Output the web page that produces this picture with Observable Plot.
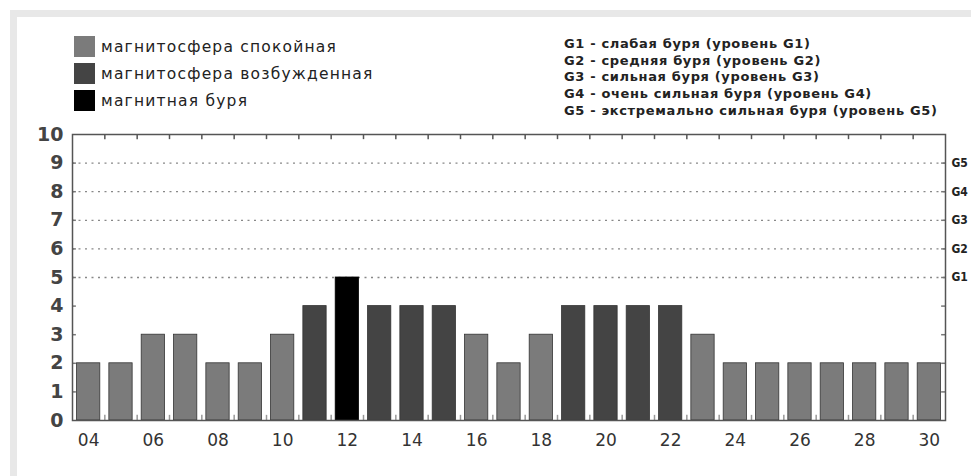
<!DOCTYPE html>
<html><head><meta charset="utf-8">
<script src="https://cdn.jsdelivr.net/npm/d3@7"></script>
<script src="https://cdn.jsdelivr.net/npm/@observablehq/plot@0.6"></script>
<style>
html,body{margin:0;padding:0;width:971px;height:476px;overflow:hidden;background:#fff;font-family:"DejaVu Sans",sans-serif;}
#g{position:absolute;left:10px;top:10px;right:-20px;bottom:-20px;background:#e8e8e8;}
#w{position:absolute;left:17px;top:17px;right:-20px;bottom:-20px;background:#fff;}
#chart{position:absolute;left:0;top:0;}
.leg{position:absolute;left:74px;display:flex;align-items:center;font-size:15.5px;letter-spacing:1.2px;color:#222;white-space:nowrap;}
.leg span.sw{display:inline-block;width:21px;height:21px;margin-right:6px;}
#gdesc{position:absolute;left:564px;top:36px;font-family:"DejaVu Sans",sans-serif;font-weight:bold;font-size:13px;letter-spacing:0.65px;line-height:16.7px;color:#222;white-space:nowrap;}
</style></head>
<body>
<div id="g"></div><div id="w"></div>
<div id="legend"></div>
<div id="gdesc"></div>
<div id="chart"></div>
<script>
const days = [4,5,6,7,8,9,10,11,12,13,14,15,16,17,18,19,20,21,22,23,24,25,26,27,28,29,30];
const kp   = [2,2,3,3,2,2,3,4,5,4,4,4,3,2,3,4,4,4,4,3,2,2,2,2,2,2,2];
const states = ["магнитосфера спокойная","магнитосфера возбужденная","магнитная буря"];
const stateColors = ["#7b7b7b","#444444","#000000"];
const gLevels = [5,6,7,8,9];
const gNames = ["G1","G2","G3","G4","G5"];
const gDescriptions = [
  "G1 - слабая буря (уровень G1)",
  "G2 - средняя буря (уровень G2)",
  "G3 - сильная буря (уровень G3)",
  "G4 - очень сильная буря (уровень G4)",
  "G5 - экстремально сильная буря (уровень G5)"
];
const xTickDays = [4,6,8,10,12,14,16,18,20,22,24,26,28,30];
const yTicks = [0,1,2,3,4,5,6,7,8,9,10];

const stateOf = v => v >= 5 ? states[2] : v >= 4 ? states[1] : states[0];
const data = days.map((d,i) => ({day:d, kp:kp[i], state:stateOf(kp[i])}));
const boundaries = days.slice(1).map(d => d - 0.5);
const inner = yTicks.filter(v => v > 0 && v < 10);
const halfW = 0.36;

// legend (HTML)
const legTops = [36, 63, 90];
document.getElementById("legend").innerHTML = states.map((s,i) =>
  `<div class="leg" style="top:${legTops[i]}px"><span class="sw" style="background:${stateColors[i]}"></span>${s}</div>`).join("");
document.getElementById("gdesc").innerHTML = gDescriptions.map(t => `<div>${t}</div>`).join("");

const x0 = days[0]-0.5, x1 = days[days.length-1]+0.5;
const plot = Plot.plot({
  width: 971, height: 476,
  marginLeft: 72, marginRight: 26, marginTop: 134, marginBottom: 56,
  style: {background: "transparent", fontFamily: "DejaVu Sans, sans-serif"},
  x: {domain: [x0, x1], axis: null},
  y: {domain: [0, 10], axis: null},
  color: {domain: states, range: stateColors},
  marks: [
    Plot.ruleY(gLevels, {x1: x0, x2: x1, stroke: "#888", strokeWidth: 1.3, strokeDasharray: "2,4.5"}),
    Plot.rectY(data, {x1: d => d.day - halfW, x2: d => d.day + halfW, y1: 0, y2: "kp", fill: "state", stroke: d => d.kp >= 5 ? "#000" : "#333", strokeWidth: 0.8}),
    Plot.ruleX(boundaries, {y1: 10, y2: 9.82, stroke: "#555", strokeWidth: 1.5}),
    Plot.ruleX(boundaries, {y1: 0, y2: 0.18, stroke: "#999", strokeWidth: 1.5}),
    Plot.ruleY(inner, {x1: x0, x2: x0 + 0.12, stroke: "#777", strokeWidth: 1.5}),
    Plot.ruleY(inner, {x1: x1 - 0.12, x2: x1, stroke: "#777", strokeWidth: 1.5}),
    Plot.frame({stroke: "#555", strokeWidth: 1.5}),
    Plot.axisY({anchor: "left", label: null, ticks: yTicks, tickSize: 0, tickPadding: 9, fontSize: 19, fontWeight: "bold", fill: "#444", tickFormat: d => String(d)}),
    Plot.axisY({anchor: "right", label: null, ticks: gLevels, tickSize: 0, tickPadding: 6, fontSize: 12, fontWeight: "bold", fill: "#222", fontFamily: "DejaVu Sans Condensed, DejaVu Sans, sans-serif", tickFormat: d => gNames[gLevels.indexOf(d)]}),
    Plot.axisX({anchor: "bottom", label: null, ticks: xTickDays, tickSize: 0, tickPadding: 13, fontSize: 17, fill: "#333", tickFormat: d => String(d).padStart(2, "0")})
  ]
});
document.getElementById("chart").appendChild(plot);
</script>
</body></html>
